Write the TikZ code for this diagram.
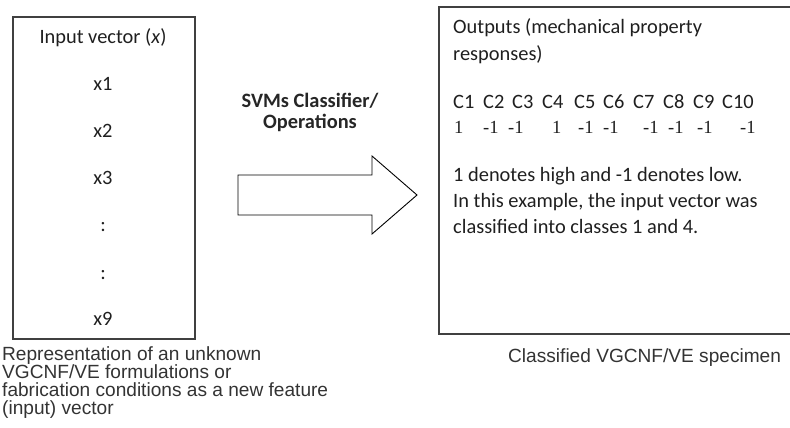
\documentclass[tikz,border=0pt]{standalone}
\usepackage{fontspec}
\setmainfont{Carlito}
\newfontfamily\capfont{Liberation Sans}
\newfontfamily\numfont{Liberation Serif}
\begin{document}
\begin{tikzpicture}[x=1pt,y=-1pt,
  panel/.style={draw=black!75, line width=1.6pt, inner sep=0pt},
  body/.style={font=\fontsize{20.4}{26}\selectfont, text=black!88, inner sep=0pt},
  bodybold/.style={font=\fontsize{20.4}{20.6}\selectfont\bfseries, text=black!85, inner sep=0pt, align=center},
  numtxt/.style={font=\numfont\fontsize{18.5}{22}\selectfont, text=black!88, inner sep=0pt},
  caption/.style={font=\capfont\fontsize{19.1}{18}\selectfont, text=black!80, inner sep=0pt, align=left},
  blockarrow/.style={draw=black, line width=0.9pt, fill=white, line join=miter}]
\clip (0,0) rectangle (790,428);

% input vector panel
\node[panel, anchor=north west, minimum width=182pt, minimum height=322pt] (inbox) at (12,16) {};
\node[body, anchor=base] (intitle) at (103,44) {Input vector (\textit{x})};
\node[body, anchor=base] (x1) at (103,90.7) {x1};
\node[body, anchor=base] (x2) at (103,137.3) {x2};
\node[body, anchor=base] (x3) at (103,184) {x3};
\node[body, anchor=base] (d1) at (103,231.7) {:};
\node[body, anchor=base] (d2) at (103,279) {:};
\node[body, anchor=base] (x9) at (103,325.7) {x9};
% multi-line nodes are anchored at the baseline of their last line
\node[caption, anchor=base west] (incap) at (2,414.3)
  {Representation of an unknown\\VGCNF/VE formulations or\\fabrication conditions as a new feature\\(input) vector};

% classifier block arrow
\node[bodybold, anchor=base] (svm) at (310,128.3) {SVMs Classifier/\\Operations};
\draw[blockarrow] (238,175) -- (372,175) -- (372,156) -- (417,195)
  -- (372,234) -- (372,215) -- (238,215) -- cycle;

% output panel
\node[panel, anchor=north west, minimum width=370pt, minimum height=327pt] (outbox) at (438,6) {};
\node[body, anchor=base west] (out1) at (453,34) {Outputs (mechanical property};
\node[body, anchor=base west] (out2) at (453,60.7) {responses)};
\foreach \cx/\lab [count=\i] in {453/C1,483/C2,512/C3,542/C4,574/C5,603/C6,633/C7,663/C8,693/C9,722/C10}
  \node[body, anchor=base west] (c\i) at (\cx,108.3) {\lab};
\foreach \vx/\val [count=\i] in {454/1,483/-1,508/-1,552/1,578/-1,603/-1,643/-1,668/-1,697/-1,740/-1}
  \node[numtxt, anchor=base west] (v\i) at (\vx,133.3) {\val};
\node[body, anchor=base west] (note1) at (453,181.7) {1 denotes high and -1 denotes low.};
\node[body, anchor=base west] (note2) at (453,207.5) {In this example, the input vector was};
\node[body, anchor=base west] (note3) at (453,233.3) {classified into classes 1 and 4.};
\node[caption, anchor=base west] (outcap) at (508,362) {Classified VGCNF/VE specimen};
\end{tikzpicture}
\end{document}
